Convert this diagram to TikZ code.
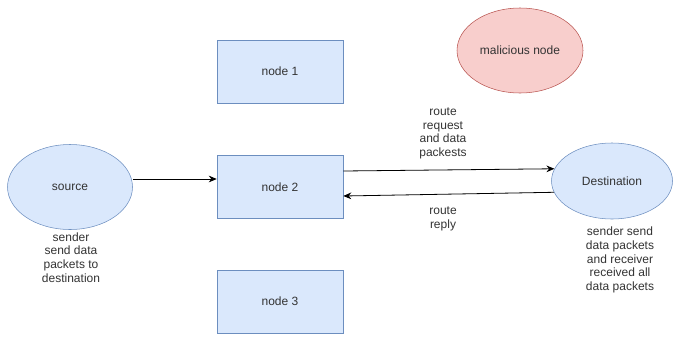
\documentclass[tikz,border=0pt]{standalone}
\usepackage{fontspec}
\setmainfont{Liberation Sans}
\usetikzlibrary{shapes.geometric,arrows.meta}
\definecolor{bfill}{HTML}{DAE8FC}
\definecolor{bdraw}{HTML}{6C8EBF}
\definecolor{rfill}{HTML}{F8CECC}
\definecolor{rdraw}{HTML}{B85450}
\definecolor{txt}{HTML}{333333}
\tikzset{
  every node/.style={font=\fontsize{9pt}{10.2pt}\selectfont, text=txt},
  box/.style={draw=bdraw, fill=bfill, minimum width=94.5pt, minimum height=47.25pt, inner sep=0pt},
  oval/.style={ellipse, draw=bdraw, fill=bfill, inner sep=0pt},
  bad/.style={ellipse, draw=rdraw, fill=rfill, inner sep=0pt},
  lbl/.style={align=center, inner sep=0pt},
  conn/.style={draw=black, line width=0.6pt, -{Stealth[length=6pt,width=5pt]}}
}
\begin{document}
\begin{tikzpicture}[x=0.75pt,y=-0.75pt]
\useasboundingbox (0,0) rectangle (673,336);
\node[oval, minimum width=93.75pt, minimum height=63.75pt] (src) at (70,187) {source};
\node[box] (n1) at (280,71.5) {node 1};
\node[box] (n2) at (280,187) {node 2};
\node[box] (n3) at (280,301.5) {node 3};
\node[oval, minimum width=90.75pt, minimum height=57pt] (dst) at (612,181) {Destination};
\node[bad, minimum width=94.5pt, minimum height=63.75pt] (mal) at (520,50.5) {malicious node};
\node[lbl] (srclbl) at (71,257.5) {sender\\send data\\packets to\\destination};
\node[lbl] (req) at (443,133.5) {route\\request\\and data\\packests};
\node[lbl] (rep) at (443,219) {route\\reply};
\node[lbl] (dstlbl) at (620,260) {sender send\\data packets\\and  receiver\\received  all\\data packets};
\draw[conn] (src.east |- 0,179) -- (n2.west |- 0,179);
\draw[conn] ([yshift=12pt]n2.east) -- (dst.168);
\draw[conn] (dst.191) -- ([yshift=-6.75pt]n2.east);
\end{tikzpicture}
\end{document}
